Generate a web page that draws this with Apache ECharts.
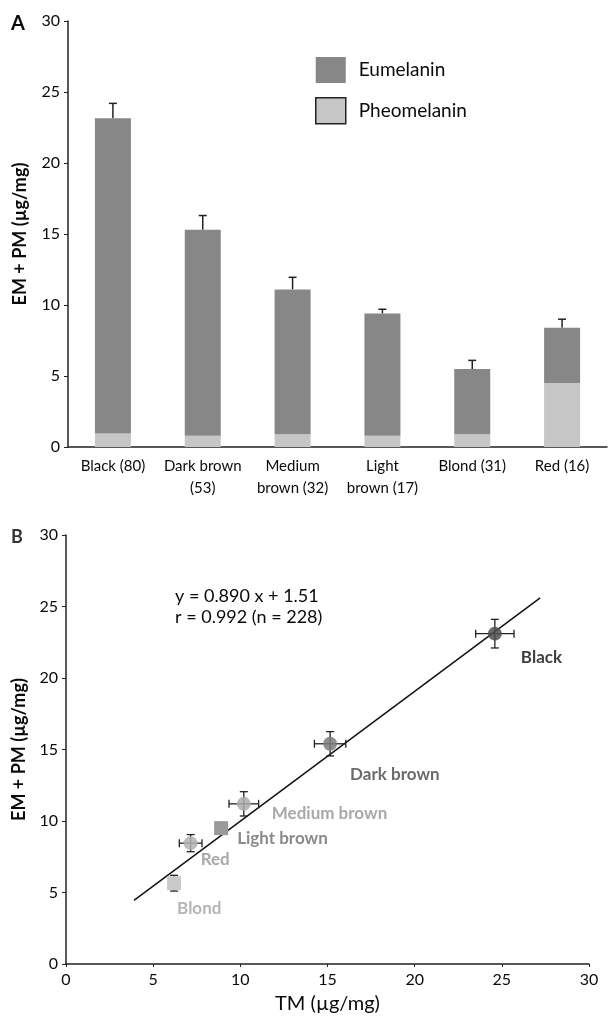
<!DOCTYPE html>
<html>
<head>
<meta charset="utf-8">
<script src="https://cdn.jsdelivr.net/npm/echarts@6/dist/echarts.min.js"></script>
<style>
html, body { margin: 0; padding: 0; background: #fff; }
#chart { width: 610px; height: 1016px; }
</style>
</head>
<body>
<div id="chart"></div>
<script>
// 图A：各发色的真黑素 / 褐黑素
const hairCategories = ['Black (80)', 'Dark brown\n(53)', 'Medium\nbrown (32)', 'Light\nbrown (17)', 'Blond (31)', 'Red (16)'];
const pheomelanin = [0.95, 0.8, 0.9, 0.8, 0.9, 4.5];
const eumelanin = [22.2, 14.5, 10.2, 8.6, 4.6, 3.9];
const totalError = [1.05, 1.0, 0.85, 0.3, 0.6, 0.6];

// 图B：TM 与 EM+PM 的关系
const pointNames = ['Black', 'Dark brown', 'Medium brown', 'Light brown', 'Red', 'Blond'];
const tmValues = [24.6, 15.15, 10.2, 8.9, 7.15, 6.2];
const emPmValues = [23.1, 15.4, 11.2, 9.5, 8.45, 5.65];
const tmError = [1.1, 0.9, 0.85, 0.25, 0.65, 0.3];
const emPmError = [1.0, 0.85, 0.85, 0.25, 0.6, 0.55];
const fitLine = [[3.9, 4.45], [27.2, 25.6]];

// 样式（不是数据）
const pointStyles = [
  { symbol: 'circle', color: '#4f4f4f', opacity: 0.85, text: '#1a1a1a', offset: [26, 24] },
  { symbol: 'circle', color: '#7c7c7c', opacity: 0.85, text: '#505050', offset: [20, 31] },
  { symbol: 'circle', color: '#ababab', opacity: 0.85, text: '#999999', offset: [28, 10] },
  { symbol: 'rect', color: '#999999', opacity: 1, text: '#8a8a8a', offset: [16, 10] },
  { symbol: 'circle', color: '#b3b3b3', opacity: 0.85, text: '#9a9a9a', offset: [10, 16] },
  { symbol: 'rect', color: '#c9c9c9', opacity: 1, text: '#b5b5b5', offset: [3, 25] }
];

const FONT = 'Lato, "Open Sans", sans-serif';
const axisColor = '#222';
const textColor = '#0a0a0a';

const chart = echarts.init(document.getElementById('chart'));

const totals = eumelanin.map((v, i) => v + pheomelanin[i]);

const option = {
  backgroundColor: '#fff',
  textStyle: { fontFamily: FONT },
  animation: false,
  grid: [
    { left: 68, top: 21, width: 539, height: 426 },
    { left: 66, top: 535, width: 523, height: 429 }
  ],
  legend: {
    left: 315,
    top: 57,
    orient: 'vertical',
    itemWidth: 30,
    itemHeight: 26,
    itemGap: 14,
    padding: 0,
    textStyle: { fontSize: 19, color: textColor, fontFamily: FONT, padding: [0, 0, 0, 8] },
    data: [
      { name: 'Eumelanin', icon: 'rect' },
      { name: 'Pheomelanin', icon: 'rect', itemStyle: { borderColor: '#222', borderWidth: 1.5 } }
    ]
  },
  xAxis: [
    {
      gridIndex: 0,
      type: 'category',
      data: hairCategories,
      axisLine: { lineStyle: { color: axisColor, width: 1.5 } },
      axisTick: { length: 5, lineStyle: { color: axisColor } },
      axisLabel: { fontSize: 15, color: textColor, lineHeight: 22, margin: 8, interval: 0 }
    },
    {
      gridIndex: 1,
      type: 'value',
      min: 0, max: 30, interval: 5,
      name: 'TM (µg/mg)',
      nameLocation: 'middle',
      nameGap: 30,
      nameTextStyle: { fontSize: 20, color: textColor },
      splitLine: { show: false },
      axisLine: { lineStyle: { color: axisColor, width: 1.5 } },
      axisTick: { length: 3, lineStyle: { color: axisColor } },
      axisLabel: { fontSize: 16, color: textColor, margin: 8 }
    }
  ],
  yAxis: [
    {
      gridIndex: 0,
      type: 'value',
      min: 0, max: 30, interval: 5,
      name: 'EM + PM (µg/mg)',
      nameLocation: 'middle',
      nameGap: 39,
      nameTextStyle: { fontSize: 18, fontWeight: 'bold', color: textColor },
      splitLine: { show: false },
      axisLine: { show: true, lineStyle: { color: axisColor, width: 1.5 } },
      axisTick: { show: true, length: 4, lineStyle: { color: axisColor } },
      axisLabel: { fontSize: 16, color: textColor, margin: 8 }
    },
    {
      gridIndex: 1,
      type: 'value',
      min: 0, max: 30, interval: 5,
      name: 'EM + PM (µg/mg)',
      nameLocation: 'middle',
      nameGap: 37,
      nameTextStyle: { fontSize: 18, fontWeight: 'bold', color: textColor },
      splitLine: { show: false },
      axisLine: { show: true, lineStyle: { color: axisColor, width: 1.5 } },
      axisTick: { show: true, length: 4, lineStyle: { color: axisColor } },
      axisLabel: { fontSize: 16, color: textColor, margin: 8 }
    }
  ],
  graphic: [
    { type: 'text', left: 11, top: 14, style: { text: 'A', font: 'bold 20px ' + FONT, fill: textColor } },
    { type: 'text', left: 11, top: 528, style: { text: 'B', font: 'bold 18px ' + FONT, fill: '#333' } },
    { type: 'text', left: 175, top: 587, style: { text: 'y = 0.890 x + 1.51', font: '18px ' + FONT, fill: textColor } },
    { type: 'text', left: 175, top: 608, style: { text: 'r = 0.992 (n = 228)', font: '18px ' + FONT, fill: textColor } }
  ],
  series: [
    {
      name: 'Pheomelanin',
      type: 'bar',
      stack: 'melanin',
      xAxisIndex: 0, yAxisIndex: 0,
      barWidth: 36,
      itemStyle: { color: '#c6c6c6' },
      data: pheomelanin
    },
    {
      name: 'Eumelanin',
      type: 'bar',
      stack: 'melanin',
      xAxisIndex: 0, yAxisIndex: 0,
      barWidth: 36,
      itemStyle: { color: '#878787' },
      data: eumelanin
    },
    {
      // 柱子上方的误差线
      type: 'custom',
      xAxisIndex: 0, yAxisIndex: 0,
      silent: true,
      z: 1,
      data: totals.map((t, i) => [i, t, totalError[i]]),
      renderItem: function (params, api) {
        const top = api.coord([api.value(0), api.value(1)]);
        const end = api.coord([api.value(0), api.value(1) + api.value(2)]);
        const style = { stroke: '#222', lineWidth: 1.5 };
        return {
          type: 'group',
          children: [
            { type: 'line', shape: { x1: top[0], y1: top[1], x2: end[0], y2: end[1] }, style: style },
            { type: 'line', shape: { x1: end[0] - 4, y1: end[1], x2: end[0] + 4, y2: end[1] }, style: style }
          ]
        };
      }
    },
    {
      type: 'line',
      xAxisIndex: 1, yAxisIndex: 1,
      data: fitLine,
      symbol: 'none',
      silent: true,
      lineStyle: { color: '#111', width: 1.5 },
      z: 2
    },
    {
      // 图B的双向误差线
      type: 'custom',
      xAxisIndex: 1, yAxisIndex: 1,
      silent: true,
      z: 3,
      data: tmValues.map((x, i) => [x, emPmValues[i], tmError[i], emPmError[i]]),
      renderItem: function (params, api) {
        const x = api.value(0), y = api.value(1), ex = api.value(2), ey = api.value(3);
        const l = api.coord([x - ex, y]);
        const r = api.coord([x + ex, y]);
        const t = api.coord([x, y + ey]);
        const b = api.coord([x, y - ey]);
        const style = { stroke: '#222', lineWidth: 1.3 };
        return {
          type: 'group',
          children: [
            { type: 'line', shape: { x1: l[0], y1: l[1], x2: r[0], y2: r[1] }, style: style },
            { type: 'line', shape: { x1: l[0], y1: l[1] - 4, x2: l[0], y2: l[1] + 4 }, style: style },
            { type: 'line', shape: { x1: r[0], y1: r[1] - 4, x2: r[0], y2: r[1] + 4 }, style: style },
            { type: 'line', shape: { x1: t[0], y1: t[1], x2: b[0], y2: b[1] }, style: style },
            { type: 'line', shape: { x1: t[0] - 4, y1: t[1], x2: t[0] + 4, y2: t[1] }, style: style },
            { type: 'line', shape: { x1: b[0] - 4, y1: b[1], x2: b[0] + 4, y2: b[1] }, style: style }
          ]
        };
      }
    },
    {
      type: 'scatter',
      xAxisIndex: 1, yAxisIndex: 1,
      z: 4,
      data: tmValues.map((x, i) => ({
        name: pointNames[i],
        value: [x, emPmValues[i]],
        symbol: pointStyles[i].symbol,
        symbolSize: 14,
        itemStyle: { color: pointStyles[i].color, opacity: pointStyles[i].opacity },
        label: {
          show: true,
          formatter: '{b}',
          position: 'inside',
          align: 'left',
          verticalAlign: 'middle',
          offset: pointStyles[i].offset,
          fontSize: 17,
          fontWeight: 'bold',
          color: pointStyles[i].text
        }
      }))
    }
  ]
};

chart.setOption(option);
</script>
</body>
</html>
